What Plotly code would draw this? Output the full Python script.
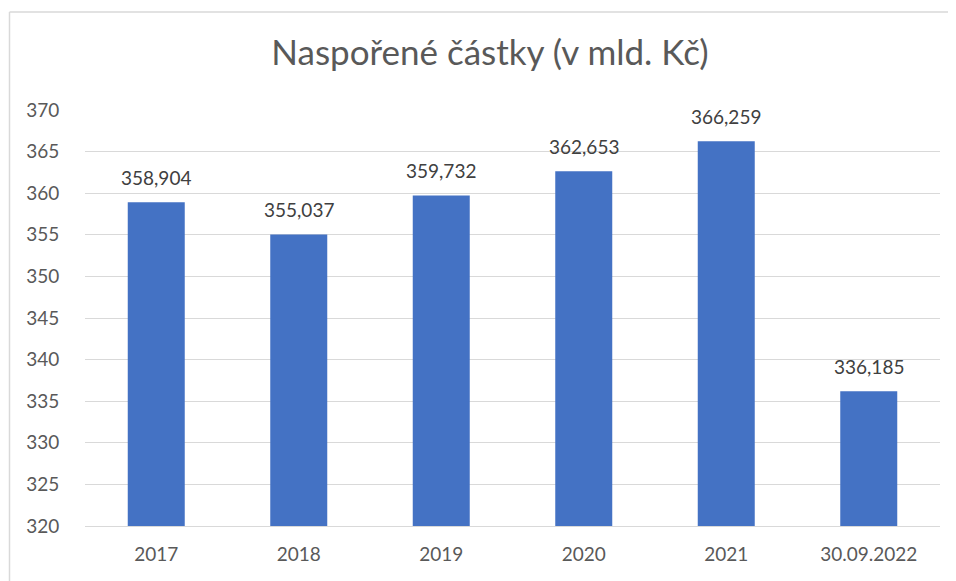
import plotly.graph_objects as go

categories = ["2017", "2018", "2019", "2020", "2021", "30.09.2022"]
values = [358.904, 355.037, 359.732, 362.653, 366.259, 336.185]
labels = [f"{v:.3f}".replace(".", ",") for v in values]
y_ticks = list(range(320, 371, 5))

# page body adds an 8px offset; size the figure to fit the window exactly
L, T = 77, 102
W, H = 948, 573
pw, ph = 855, 416
R = W - L - pw
B = H - T - ph

fig = go.Figure(go.Bar(
    x=categories, y=values,
    marker=dict(color="#4472C4", line=dict(width=0)),
    width=0.4, hoverinfo="skip",
))

for i, (v, t) in enumerate(zip(values, labels)):
    fig.add_annotation(x=i, y=v, text=t, showarrow=False, yanchor="bottom", yshift=11,
                       font=dict(size=19, color="#404040", family="Lato"))

# chart frame: only top and left edges are visible in the reference
bx = (1.5 - L) / pw
by = (H - B - 4) / ph
fig.add_shape(type="line", xref="paper", yref="paper", x0=bx, x1=(W + 20 - L) / pw, y0=by, y1=by,
              line=dict(color="#D9D9D9", width=1.5), layer="below")
fig.add_shape(type="line", xref="paper", yref="paper", x0=bx, x1=bx, y0=by, y1=-(B + 20) / ph,
              line=dict(color="#D9D9D9", width=1.5), layer="below")

fig.update_layout(
    width=W, height=H,
    margin=dict(l=L, r=R, t=T, b=B, autoexpand=False),
    paper_bgcolor="white", plot_bgcolor="white",
    font=dict(family="Lato", color="#595959"),
    title=dict(text="Naspořené částky (v mld. Kč)", font=dict(size=35, color="#595959", family="Lato"),
               x=(482 - L) / pw, xref="paper", xanchor="center",
               y=1 - 45 / H, yref="container", yanchor="middle"),
    showlegend=False,
)
fig.update_yaxes(range=[320, 370], tickvals=y_ticks, showgrid=True, gridcolor="#D9D9D9", gridwidth=1,
                 zeroline=False, showline=False, tickfont=dict(size=19, color="#595959"),
                 ticks="outside", ticklen=21, tickcolor="rgba(0,0,0,0)")
fig.update_xaxes(type="category", range=[-0.5, len(categories) - 0.5],
                 showline=True, linecolor="#D9D9D9", linewidth=1,
                 tickfont=dict(size=19, color="#595959"),
                 ticks="outside", ticklen=11, tickcolor="rgba(0,0,0,0)")

fig.write_html("out.html")
